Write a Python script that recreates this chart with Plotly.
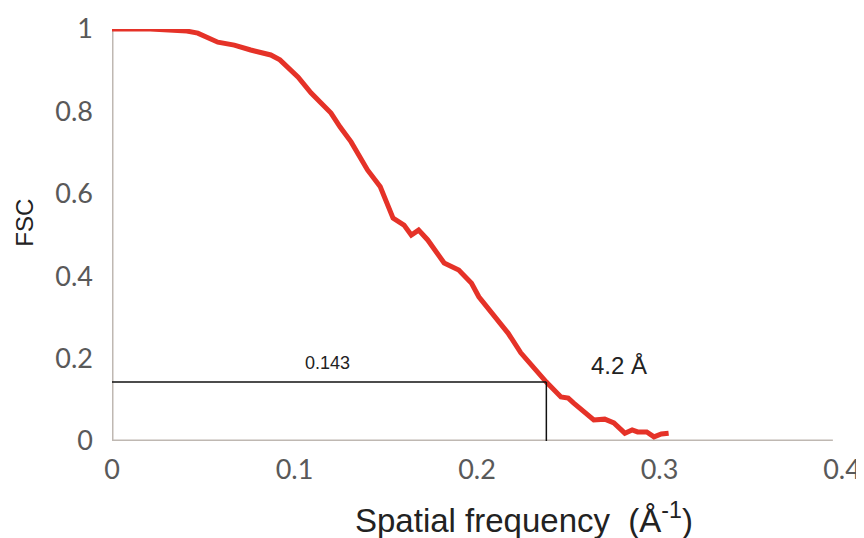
import plotly.graph_objects as go

freq = [0.0, 0.021, 0.041, 0.047, 0.058, 0.067, 0.076, 0.087, 0.092, 0.102, 0.109, 0.120,
        0.125, 0.131, 0.140, 0.147, 0.154, 0.160, 0.164, 0.168, 0.173, 0.182, 0.190, 0.197,
        0.201, 0.208, 0.217, 0.224, 0.231, 0.238, 0.246, 0.250, 0.253, 0.264, 0.270, 0.275,
        0.281, 0.285, 0.288, 0.293, 0.297, 0.301, 0.305]
fsc = [1.0, 1.0, 0.995, 0.99, 0.968, 0.961, 0.949, 0.937, 0.925, 0.883, 0.845, 0.796,
       0.762, 0.726, 0.658, 0.617, 0.541, 0.524, 0.50, 0.512, 0.488, 0.432, 0.415, 0.383,
       0.35, 0.311, 0.262, 0.214, 0.177, 0.143, 0.107, 0.104, 0.092, 0.051, 0.053, 0.044,
       0.019, 0.027, 0.022, 0.022, 0.010, 0.017, 0.019]

threshold = 0.143
cutoff_freq = 0.238
x_ticks = [0, 0.1, 0.2, 0.3, 0.4]
x_tick_labels = ["0", "0.1", "0.2", "0.3", "0.4"]
y_ticks = [0, 0.2, 0.4, 0.6, 0.8, 1]
y_tick_labels = ["0", "0.2", "0.4", "0.6", "0.8", "1"]

fig = go.Figure()
fig.add_trace(go.Scatter(x=freq, y=fsc, mode="lines",
                         line=dict(color="#e53228", width=5),
                         cliponaxis=False, showlegend=False))

axis_col = "#bfb8b2"
shapes = [
    dict(type="line", xref="x", yref="y", x0=0, x1=0.395, y0=0, y1=0,
         line=dict(color=axis_col, width=3), layer="below"),
    dict(type="line", xref="x", yref="y", x0=0, x1=0, y0=0, y1=1,
         line=dict(color=axis_col, width=3), layer="below"),
    dict(type="line", xref="x", yref="y", x0=0, x1=cutoff_freq, y0=threshold, y1=threshold,
         line=dict(color="#111111", width=1.5)),
    dict(type="line", xref="x", yref="y", x0=cutoff_freq, x1=cutoff_freq, y0=0, y1=threshold,
         line=dict(color="#111111", width=1.5)),
]

fig.update_layout(
    width=864, height=538,
    margin=dict(l=104, r=30, t=21, b=105, autoexpand=False),
    paper_bgcolor="white", plot_bgcolor="white",
    shapes=shapes,
    annotations=[
        dict(x=0.118, y=0.19, xref="x", yref="y", text="0.143", showarrow=False,
             font=dict(family="Liberation Sans, Arial", size=18, color="#222222")),
        dict(x=0.278, y=0.183, xref="x", yref="y", text="4.2 Å", showarrow=False,
             font=dict(family="Liberation Sans, Arial", size=24, color="#222222")),
        dict(x=0.226, y=-0.187, xref="x", yref="paper", xanchor="center", yanchor="middle",
             text="Spatial frequency  (Å<sup>-1</sup>)", showarrow=False,
             font=dict(family="Liberation Sans, Arial", size=33, color="#222222")),
        dict(x=-0.119, y=0.53, xref="paper", yref="paper", xanchor="center", yanchor="middle",
             text="FSC", textangle=-90, showarrow=False,
             font=dict(family="Liberation Sans, Arial", size=24, color="#222222")),
    ],
    xaxis=dict(range=[0, 0.4], tickvals=x_ticks, ticktext=x_tick_labels,
               showgrid=False, zeroline=False, showline=False, ticks="",
               ticklabelstandoff=10, automargin=False,
               tickfont=dict(family="Lato", size=27, color="#595959")),
    yaxis=dict(range=[0, 1], tickvals=y_ticks, ticktext=y_tick_labels,
               showgrid=False, zeroline=False, showline=False, ticks="",
               ticklabelstandoff=18, automargin=False,
               tickfont=dict(family="Lato", size=27, color="#595959")),
)

fig.write_html("out.html")
